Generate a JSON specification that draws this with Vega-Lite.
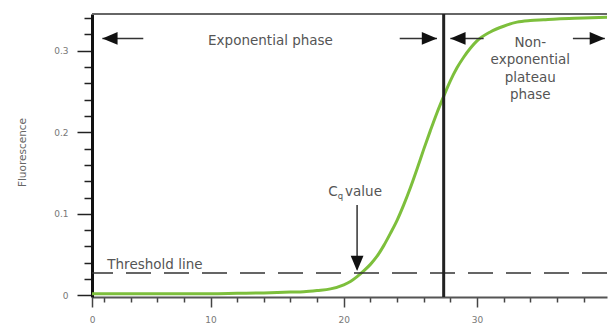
{
  "$schema": "https://vega.github.io/schema/vega-lite/v6.json",
  "autosize": "none",
  "width": 515,
  "height": 283,
  "padding": {"left": 92, "top": 14, "right": 1, "bottom": 32},
  "background": "white",
  "config": {"view": {"stroke": null}, "font": "DejaVu Sans"},
  "resolve": {"axis": {"x": "independent", "y": "independent"}},
  "datasets": {
    "curve": [
      {"x": 1, "y": 0.002}, {"x": 2, "y": 0.002}, {"x": 4, "y": 0.002}, {"x": 6, "y": 0.002},
      {"x": 8, "y": 0.002}, {"x": 10, "y": 0.002}, {"x": 12, "y": 0.0025}, {"x": 14, "y": 0.003},
      {"x": 15, "y": 0.0035}, {"x": 16, "y": 0.004}, {"x": 17, "y": 0.0045}, {"x": 18, "y": 0.006},
      {"x": 19, "y": 0.008}, {"x": 20, "y": 0.013}, {"x": 20.5, "y": 0.017}, {"x": 21, "y": 0.023},
      {"x": 21.5, "y": 0.03}, {"x": 22, "y": 0.038}, {"x": 22.5, "y": 0.048}, {"x": 23, "y": 0.061},
      {"x": 23.5, "y": 0.076}, {"x": 24, "y": 0.092}, {"x": 24.5, "y": 0.111}, {"x": 25, "y": 0.132},
      {"x": 25.5, "y": 0.155}, {"x": 26, "y": 0.179}, {"x": 26.5, "y": 0.202}, {"x": 27, "y": 0.224},
      {"x": 27.5, "y": 0.244}, {"x": 28, "y": 0.263}, {"x": 28.5, "y": 0.279}, {"x": 29, "y": 0.292},
      {"x": 29.5, "y": 0.303}, {"x": 30, "y": 0.312}, {"x": 31, "y": 0.323}, {"x": 32, "y": 0.33},
      {"x": 33, "y": 0.335}, {"x": 34, "y": 0.337}, {"x": 35, "y": 0.338}, {"x": 36, "y": 0.339},
      {"x": 38, "y": 0.34}, {"x": 40, "y": 0.341}
    ],
    "arrows": [
      {"x": 1.88, "x2": 4.95, "y": 0.315},
      {"x": 24.2, "x2": 27.0, "y": 0.315},
      {"x": 28.0, "x2": 30.5, "y": 0.315},
      {"x": 37.2, "x2": 39.6, "y": 0.315}
    ],
    "headsLeft": [{"x": 1.88, "y": 0.315}, {"x": 28.0, "y": 0.315}],
    "headsRight": [{"x": 27.0, "y": 0.315}, {"x": 39.6, "y": 0.315}],
    "cqArrow": [{"x": 21.0, "y": 0.1108, "y2": 0.032}],
    "cqHead": [{"x": 21.0, "y": 0.03}],
    "labelsCenter": [{"x": 14.5, "y": 0.307, "label": "Exponential phase"}],
    "labelsMulti": [{"x": 34.0, "y": 0.305, "label": ["Non-", "exponential", "plateau", "phase"]}],
    "labelsLeft": [
      {"x": 18.83, "y": 0.1268, "label": "C"},
      {"x": 20.1, "y": 0.1268, "label": "value"}
    ],
    "labelsBase": [{"x": 2.25, "y": 0.0325, "label": "Threshold line"}],
    "labelsSub": [{"x": 19.55, "y": 0.1215, "label": "q"}],
    "border": [{"y": 0.345}],
    "phase": [{"x": 27.5}],
    "threshold": [{"y": 0.0275}]
  },
  "layer": [
    {
      "data": {"name": "curve"},
      "mark": {"type": "line", "color": "#7dbf3c", "strokeWidth": 3, "interpolate": "monotone", "clip": true},
      "encoding": {
        "x": {
          "field": "x", "type": "quantitative",
          "scale": {"domain": [1.1, 39.76], "nice": false, "zero": false},
          "axis": {
            "title": null,
            "values": [1.1, 2, 4, 6, 8, 10, 12, 14, 16, 18, 20, 22, 24, 26, 28, 30, 32, 34, 36, 38],
            "labelExpr": "datum.value < 1.5 ? '0' : (datum.value % 10 === 0 ? datum.label : '')",
            "tickSize": {"condition": {"test": "datum.value < 1.5 || datum.value % 10 === 0", "value": 10}, "value": 5},
            "tickColor": "#444", "tickWidth": 1.5,
            "domainColor": "#555", "domainWidth": 2,
            "labelFontSize": 9, "labelColor": "#777", "labelPadding": 8,
            "labelFont": "DejaVu Sans", "labelFlush": false, "labelOverlap": false, "grid": false
          }
        },
        "y": {
          "field": "y", "type": "quantitative",
          "scale": {"domain": [-0.002, 0.345], "nice": false, "zero": false},
          "axis": {
            "title": "Fluorescence",
            "titleFontSize": 10.5, "titleColor": "#666", "titleFontWeight": "normal",
            "titleFont": "DejaVu Sans", "titleX": -70, "titleY": 138, "titleAngle": -90,
            "titleAlign": "center", "titleBaseline": "middle",
            "values": [0, 0.02, 0.04, 0.06, 0.08, 0.1, 0.12, 0.14, 0.16, 0.18, 0.2, 0.22, 0.24, 0.26, 0.28, 0.3, 0.32, 0.34],
            "labelExpr": "(datum.value == 0 || datum.value == 0.1 || datum.value == 0.2 || datum.value == 0.3) ? format(datum.value, '.1~f') : ''",
            "tickSize": {"condition": {"test": "datum.value == 0 || datum.value == 0.1 || datum.value == 0.2 || datum.value == 0.3", "value": 15}, "value": 8},
            "tickColor": "#222", "tickWidth": 1.5,
            "domainColor": "#111", "domainWidth": 3,
            "labelFontSize": 9, "labelColor": "#777", "labelPadding": 9,
            "labelFont": "DejaVu Sans", "labelFlush": false, "labelOverlap": false, "grid": false
          }
        }
      }
    },
    {
      "data": {"name": "threshold"},
      "mark": {"type": "rule", "color": "#333", "strokeWidth": 1.5, "strokeDash": [25, 13]},
      "encoding": {"y": {"field": "y", "type": "quantitative", "axis": null}}
    },
    {
      "data": {"name": "border"},
      "mark": {"type": "rule", "color": "#666", "strokeWidth": 2},
      "encoding": {"y": {"field": "y", "type": "quantitative", "axis": null}}
    },
    {
      "data": {"name": "phase"},
      "mark": {"type": "rule", "color": "#222", "strokeWidth": 3},
      "encoding": {"x": {"field": "x", "type": "quantitative", "axis": null}}
    },
    {
      "data": {"name": "arrows"},
      "mark": {"type": "rule", "color": "#333", "strokeWidth": 1.5},
      "encoding": {
        "x": {"field": "x", "type": "quantitative", "axis": null},
        "x2": {"field": "x2"},
        "y": {"field": "y", "type": "quantitative", "axis": null}
      }
    },
    {
      "data": {"name": "headsLeft"},
      "mark": {"type": "point", "shape": "M0,0L1.9,-0.8L1.9,0.8Z", "filled": true, "color": "#111", "size": 256, "opacity": 1},
      "encoding": {
        "x": {"field": "x", "type": "quantitative", "axis": null},
        "y": {"field": "y", "type": "quantitative", "axis": null}
      }
    },
    {
      "data": {"name": "headsRight"},
      "mark": {"type": "point", "shape": "M0,0L-1.9,-0.8L-1.9,0.8Z", "filled": true, "color": "#111", "size": 256, "opacity": 1},
      "encoding": {
        "x": {"field": "x", "type": "quantitative", "axis": null},
        "y": {"field": "y", "type": "quantitative", "axis": null}
      }
    },
    {
      "data": {"name": "cqArrow"},
      "mark": {"type": "rule", "color": "#333", "strokeWidth": 1.5},
      "encoding": {
        "x": {"field": "x", "type": "quantitative", "axis": null},
        "y": {"field": "y", "type": "quantitative", "axis": null},
        "y2": {"field": "y2"}
      }
    },
    {
      "data": {"name": "cqHead"},
      "mark": {"type": "point", "shape": "M0,0L-0.8,-1.9L0.8,-1.9Z", "filled": true, "color": "#111", "size": 256, "opacity": 1},
      "encoding": {
        "x": {"field": "x", "type": "quantitative", "axis": null},
        "y": {"field": "y", "type": "quantitative", "axis": null}
      }
    },
    {
      "data": {"name": "labelsCenter"},
      "mark": {"type": "text", "align": "center", "baseline": "alphabetic", "fontSize": 13.5, "color": "#555", "font": "DejaVu Sans"},
      "encoding": {
        "x": {"field": "x", "type": "quantitative", "axis": null},
        "y": {"field": "y", "type": "quantitative", "axis": null},
        "text": {"field": "label"}
      }
    },
    {
      "data": {"name": "labelsMulti"},
      "mark": {"type": "text", "align": "center", "baseline": "alphabetic", "fontSize": 13.5, "lineHeight": 17.5, "color": "#555", "font": "DejaVu Sans"},
      "encoding": {
        "x": {"field": "x", "type": "quantitative", "axis": null},
        "y": {"field": "y", "type": "quantitative", "axis": null},
        "text": {"field": "label"}
      }
    },
    {
      "data": {"name": "labelsLeft"},
      "mark": {"type": "text", "align": "left", "baseline": "middle", "fontSize": 13.5, "color": "#555", "font": "DejaVu Sans"},
      "encoding": {
        "x": {"field": "x", "type": "quantitative", "axis": null},
        "y": {"field": "y", "type": "quantitative", "axis": null},
        "text": {"field": "label"}
      }
    },
    {
      "data": {"name": "labelsBase"},
      "mark": {"type": "text", "align": "left", "baseline": "alphabetic", "fontSize": 13.5, "color": "#555", "font": "DejaVu Sans"},
      "encoding": {
        "x": {"field": "x", "type": "quantitative", "axis": null},
        "y": {"field": "y", "type": "quantitative", "axis": null},
        "text": {"field": "label"}
      }
    },
    {
      "data": {"name": "labelsSub"},
      "mark": {"type": "text", "align": "left", "baseline": "middle", "fontSize": 8.5, "color": "#555", "font": "DejaVu Sans"},
      "encoding": {
        "x": {"field": "x", "type": "quantitative", "axis": null},
        "y": {"field": "y", "type": "quantitative", "axis": null},
        "text": {"field": "label"}
      }
    }
  ]
}
